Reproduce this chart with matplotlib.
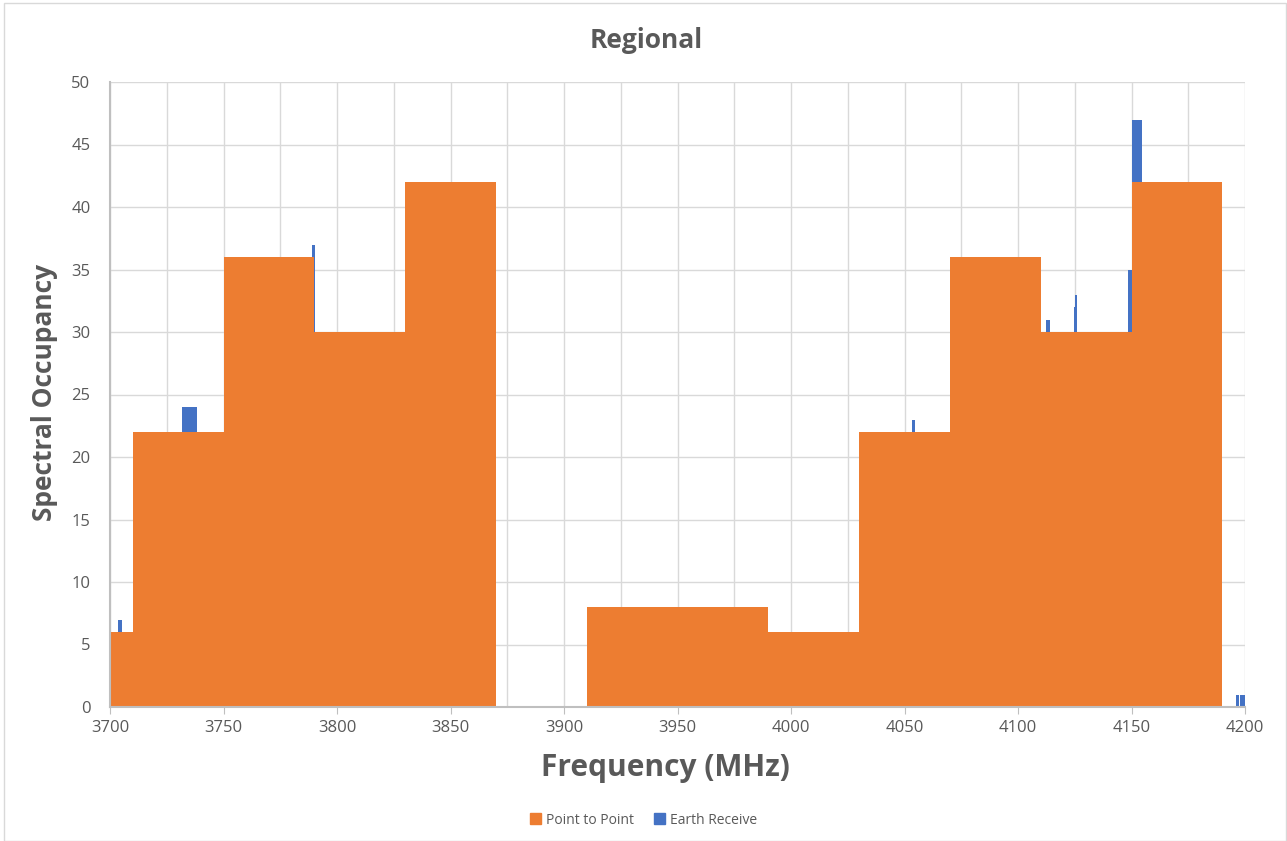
import matplotlib
matplotlib.use("Agg")
import matplotlib.pyplot as plt
from matplotlib.patches import Rectangle, Patch
import numpy as np

# Point to Point (orange) step areas: band edges and occupancy
pp_edges = [3700, 3710, 3750, 3790, 3830, 3870, 3910, 3990, 4030, 4070, 4110, 4150, 4190]
pp_heights = [6, 22, 36, 30, 42, 0, 8, 6, 22, 36, 30, 42]

# Earth Receive (blue) narrow bars: start freq, width, occupancy
er_start = [3703.5, 3731.8, 3789.0, 4053.3, 4112.3, 4124.8, 4125.3, 4148.6, 4150.2, 4196.0, 4197.8]
er_width = [1.8, 6.6, 1.3, 1.4, 1.7, 0.7, 0.9, 2.2, 4.5, 1.2, 2.5]
er_height = [7, 24, 37, 23, 31, 32, 33, 35, 47, 1, 1]

x_ticks = [3700, 3750, 3800, 3850, 3900, 3950, 4000, 4050, 4100, 4150, 4200]
y_ticks = [0, 5, 10, 15, 20, 25, 30, 35, 40, 45, 50]

ORANGE = "#ED7D31"
BLUE = "#4472C4"
TXT = "#595959"
GRID = "#D9D9D9"

plt.rcParams['font.family'] = ['Open Sans', 'DejaVu Sans']

fig = plt.figure(figsize=(12.87, 8.41), dpi=100)
fig.patches.append(Rectangle((4/1287, 0), 1 - 5/1287, 1 - 3/841, transform=fig.transFigure,
                             fill=False, edgecolor="#D9D9D9", linewidth=1))
ax = fig.add_axes([110/1287, 1 - 707/841, (1245 - 110)/1287, (707 - 82)/841])

ax.bar(er_start, er_height, width=er_width, align='edge', color=BLUE, zorder=2, linewidth=0)
ax.stairs(pp_heights, pp_edges, fill=True, color=ORANGE, zorder=3, linewidth=0)

ax.set_xlim(3700, 4200)
ax.set_ylim(0, 50)
ax.set_xticks(x_ticks)
ax.set_xticks(np.arange(3725, 4200, 50), minor=True)
ax.set_yticks(y_ticks)
ax.grid(True, which='both', axis='x', color=GRID, linewidth=1, zorder=0)
ax.grid(True, which='major', axis='y', color=GRID, linewidth=1, zorder=0)
ax.set_axisbelow(True)

for s in ['top', 'right']:
    ax.spines[s].set_visible(False)
ax.spines['left'].set_color("#BFBFBF")
ax.spines['bottom'].set_color("#BFBFBF")
ax.spines['left'].set_linewidth(1.5)
ax.spines['bottom'].set_linewidth(1.5)
ax.spines['left'].set_zorder(4)
ax.spines['bottom'].set_zorder(4)

ax.tick_params(axis='x', which='major', length=5, color="#BFBFBF", labelsize=12, labelcolor=TXT, pad=4)
ax.tick_params(axis='x', which='minor', length=0)
ax.tick_params(axis='y', length=0, labelsize=12, labelcolor=TXT, pad=14)

fig.text(646/1287, 1 - 40/841, "Regional", fontsize=19, fontweight='bold', color=TXT,
         ha='center', va='center')
fig.text(665/1287, 1 - 768/841, "Frequency (MHz)", fontsize=21.5, fontweight='bold', color=TXT,
         ha='center', va='center')
fig.text(45/1287, 1 - 392/841, "Spectral Occupancy", fontsize=19, fontweight='bold', color=TXT,
         ha='center', va='center', rotation=90)

handles = [Patch(color=ORANGE, label="Point to Point"), Patch(color=BLUE, label="Earth Receive")]
fig.legend(handles=handles, loc='center', bbox_to_anchor=(0.5, 1 - 820/841), ncol=2, frameon=False,
           fontsize=10, labelcolor=TXT, handlelength=0.8, handleheight=0.8, handletextpad=0.3,
           columnspacing=1.5)

fig.savefig("out.png", dpi=100)
